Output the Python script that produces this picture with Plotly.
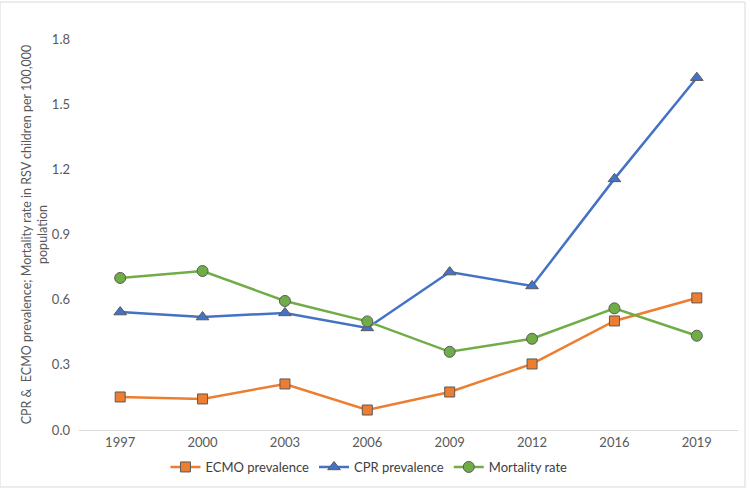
import plotly.graph_objects as go

years = ["1997", "2000", "2003", "2006", "2009", "2012", "2016", "2019"]
ecmo = [0.152, 0.143, 0.212, 0.092, 0.175, 0.304, 0.502, 0.608]
cpr = [0.543, 0.520, 0.539, 0.470, 0.727, 0.663, 1.156, 1.622]
mortality = [0.700, 0.732, 0.594, 0.500, 0.360, 0.420, 0.560, 0.434]
y_ticks = [0.0, 0.3, 0.6, 0.9, 1.2, 1.5, 1.8]

fig = go.Figure()
series = [
    ("ECMO prevalence", ecmo, "#ED7D31", "square", 10),
    ("CPR prevalence", cpr, "#4472C4", "triangle-up", 11),
    ("Mortality rate", mortality, "#70AD47", "circle", 11),
]
for name, vals, col, sym, sz in series:
    fig.add_trace(go.Scatter(
        x=years, y=vals, name=name, mode="lines+markers",
        line=dict(color=col, width=2.5),
        marker=dict(symbol=sym, size=sz, color=col, line=dict(color="#5a5a5a", width=1)),
    ))

fig.update_layout(
    width=750, height=490,
    margin=dict(l=79, r=12, t=39, b=60, autoexpand=False),
    paper_bgcolor="white", plot_bgcolor="white",
    font=dict(family="Lato, Open Sans, sans-serif", size=13, color="#595959"),
    showlegend=True,
    legend=dict(orientation="h", x=0.44, xanchor="center", y=-37/391, yanchor="middle",
                font=dict(size=13, color="#404040"), itemwidth=30, tracegroupgap=0),
    xaxis=dict(type="category", range=[-0.5, 7.5], showgrid=False, showline=True,
               linecolor="#d9d9d9", linewidth=1, ticks="", automargin=False,
               tickfont=dict(size=13, color="#595959")),
    yaxis=dict(range=[0, 1.8], tickvals=y_ticks, tickformat=".1f", showgrid=False,
               showline=False, zeroline=False, ticks="", ticklen=0, automargin=False,
               ticklabelstandoff=8,
               tickfont=dict(size=13, color="#595959"),
               title=dict(text="CPR &  ECMO prevalence; Mortality rate in RSV children per 100,000<br>population",
                          font=dict(size=12.5, color="#595959"), standoff=1)),
    shapes=[dict(type="rect", xref="paper", yref="paper",
                 x0=-79/659, x1=1+7/659, y0=-57/391, y1=1+37/391,
                 line=dict(color="#d9d9d9", width=1), fillcolor="rgba(0,0,0,0)")],
)

fig.write_html("out.html")
